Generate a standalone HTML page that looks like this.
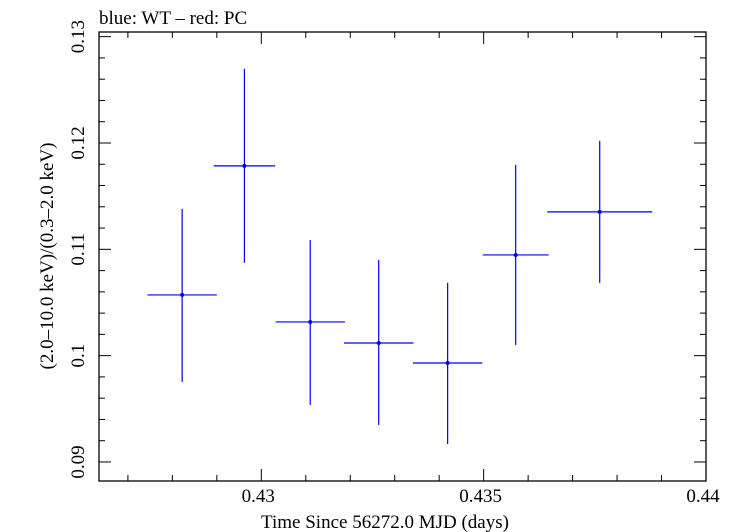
<!DOCTYPE html>
<html><head><meta charset="utf-8"><style>
html,body{margin:0;padding:0;background:#fff;}
svg{display:block;font-family:"Liberation Serif",serif;}
</style></head><body>
<svg id="chart" width="735" height="532" xmlns="http://www.w3.org/2000/svg">
<text x="99" y="24" font-size="19">blue: WT – red: PC</text>
<rect x="99" y="32" width="607" height="449" fill="none" stroke="#000" stroke-width="1.3"/>
<g id="axes"></g>
<g id="series"></g>
<text x="385" y="528" font-size="19" text-anchor="middle">Time Since 56272.0 MJD (days)</text>
<text transform="translate(53,256) rotate(-90)" font-size="19" text-anchor="middle">(2.0–10.0 keV)/(0.3–2.0 keV)</text>
</svg>
<script>
const times=[0.42822,0.42962,0.43110,0.43264,0.43419,0.43572,0.43761];
const timeErr=[0.00078,0.00069,0.00078,0.00078,0.00078,0.00074,0.00118];
const ratios=[0.10571,0.11785,0.10317,0.10119,0.09931,0.10947,0.11352];
const ratioHigh=[0.11380,0.12697,0.11088,0.10900,0.10684,0.11794,0.12020];
const ratioLow=[0.09753,0.10872,0.09536,0.09348,0.09169,0.10101,0.10684];
const xTicks=[0.43,0.435,0.44];
const xTickLabels=["0.43","0.435","0.44"];
const yTicks=[0.09,0.1,0.11,0.12,0.13];
const yTickLabels=["0.09","0.1","0.11","0.12","0.13"];
const X0=99,X1=706,Y0=481,Y1=32;
const xMin=0.42635,xMax=0.44,yMin=0.08821,yMax=0.13044;
const sx=v=>X0+(v-xMin)/(xMax-xMin)*(X1-X0);
const sy=v=>Y0-(v-yMin)/(yMax-yMin)*(Y0-Y1);
const NS="http://www.w3.org/2000/svg";
const axes=document.getElementById('axes'),series=document.getElementById('series');
function mk(tag,attrs,parent){const e=document.createElementNS(NS,tag);for(const k in attrs)e.setAttribute(k,attrs[k]);parent.appendChild(e);return e;}
for(let i=-4;i<=10;i++){const v=0.43+i*0.001;if(v<xMin||v>xMax+1e-9)continue;const x=sx(v);const major=i%5===0;const L=major?12:6;
const t1=mk('line',{x1:x,x2:x,y1:Y0,y2:Y0-L,stroke:'#000','stroke-width':1},axes);


const t2=mk('line',{x1:x,x2:x,y1:Y1,y2:Y1+L,stroke:'#000','stroke-width':1},axes);

}
xTicks.forEach((v,i)=>{const t=mk('text',{x:sx(v)-3,y:502,'font-size':19,'text-anchor':'middle'},axes);t.textContent=xTickLabels[i];

});
for(let i=0;i<=21;i++){const v=0.088+i*0.002;if(v<yMin||v>yMax)continue;const y=sy(v);const major=Math.abs((v*100)-Math.round(v*100))<1e-6;const L=major?12:6;
const t1=mk('line',{x1:X0,x2:X0+L,y1:y,y2:y,stroke:'#000','stroke-width':1},axes);


const t2=mk('line',{x1:X1,x2:X1-L,y1:y,y2:y,stroke:'#000','stroke-width':1},axes);

}
yTicks.forEach((v,i)=>{const y=sy(v);const t=mk('text',{transform:`translate(84,${y}) rotate(-90)`,'font-size':19,'text-anchor':'middle'},axes);t.textContent=yTickLabels[i];

});
times.forEach((t,i)=>{const g=mk('g',{},series);


mk('line',{x1:sx(t-timeErr[i]),x2:sx(t+timeErr[i]),y1:sy(ratios[i]),y2:sy(ratios[i]),stroke:'#0000ee','stroke-width':1.2},g);
mk('line',{x1:sx(t),x2:sx(t),y1:sy(ratioLow[i]),y2:sy(ratioHigh[i]),stroke:'#0000ee','stroke-width':1.2},g);
mk('circle',{cx:sx(t),cy:sy(ratios[i]),r:2,fill:'#0000ee'},g);});
</script>
</body></html>
